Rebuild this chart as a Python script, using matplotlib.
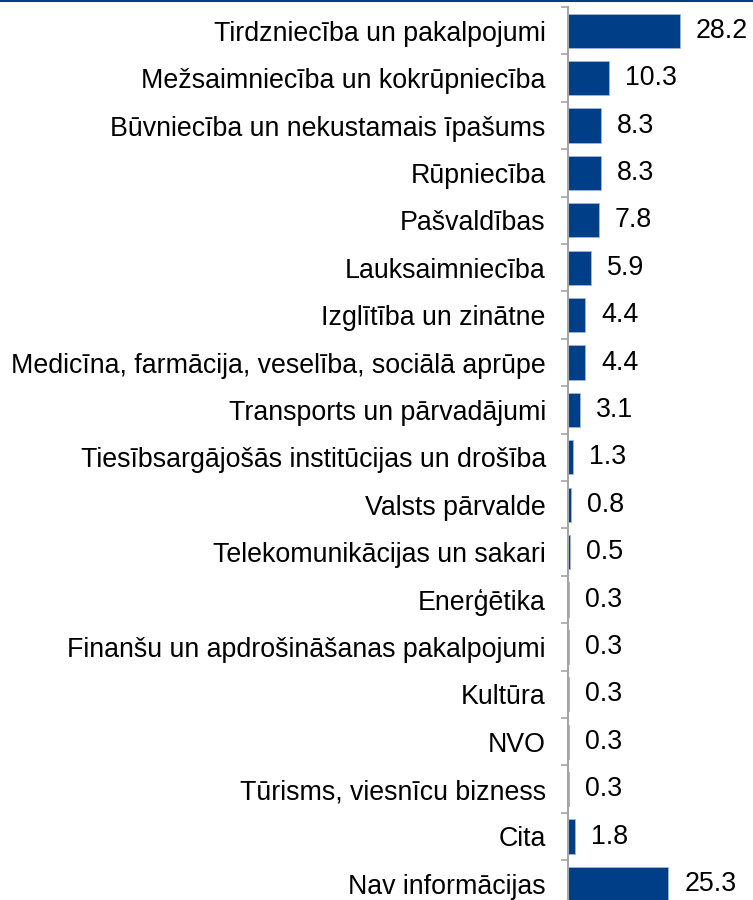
import numpy as np
import matplotlib
matplotlib.use('Agg')
import matplotlib.pyplot as plt
from matplotlib.lines import Line2D

plt.rcParams['font.family'] = ['Liberation Sans', 'DejaVu Sans']

categories = ['Tirdzniecība un pakalpojumi',
              'Mežsaimniecība un kokrūpniecība',
              'Būvniecība un nekustamais īpašums',
              'Rūpniecība',
              'Pašvaldības',
              'Lauksaimniecība',
              'Izglītība un zinātne',
              'Medicīna, farmācija, veselība, sociālā aprūpe',
              'Transports un pārvadājumi',
              'Tiesībsargājošās institūcijas un drošība',
              'Valsts pārvalde',
              'Telekomunikācijas un sakari',
              'Enerģētika',
              'Finanšu un apdrošināšanas pakalpojumi',
              'Kultūra',
              'NVO',
              'Tūrisms, viesnīcu bizness',
              'Cita',
              'Nav informācijas']
values = [28.2, 10.3, 8.3, 8.3, 7.8, 5.9, 4.4, 4.4, 3.1, 1.3,
          0.8, 0.5, 0.3, 0.3, 0.3, 0.3, 0.3, 1.8, 25.3]

navy = '#003f87'
W, H = 753, 900
fig = plt.figure(figsize=(W/100, H/100), dpi=100)

row = 47.4
top = 7
ax_h = row * len(categories)
ax = fig.add_axes([568/W, 1 - (top + ax_h)/H, (W - 568)/W, ax_h/H])

y = np.arange(len(categories))
ax.barh(y, values, height=0.72, color=navy, edgecolor='#9db8d9', linewidth=0.6)
ax.set_ylim(len(categories) - 0.5, -0.5)
ax.set_xlim(0, (W - 568)/3.97)

for yi, v in zip(y, values):
    ax.annotate(f'{v:.1f}', (v, yi), xytext=(11.5, 0), textcoords='offset points',
                va='center', ha='left', fontsize=19.3, color='black')

ax.set_yticks(y)
ax.set_yticklabels(categories, fontsize=19.3)
ax.set_yticks(np.arange(len(categories) + 1) - 0.5, minor=True)
ax.tick_params(axis='y', which='major', length=0, pad=16)
ax.tick_params(axis='y', which='minor', length=5, color='#a6a6a6', width=1.2)
ax.set_xticks([])
for s in ['top', 'right', 'bottom']:
    ax.spines[s].set_visible(False)
ax.spines['left'].set_color('#a6a6a6')
ax.spines['left'].set_linewidth(1.5)

fig.add_artist(Line2D([0, 1], [1 - 1/H, 1 - 1/H], color=navy, linewidth=1.5,
                      transform=fig.transFigure))

fig.savefig('out.png', dpi=100)
